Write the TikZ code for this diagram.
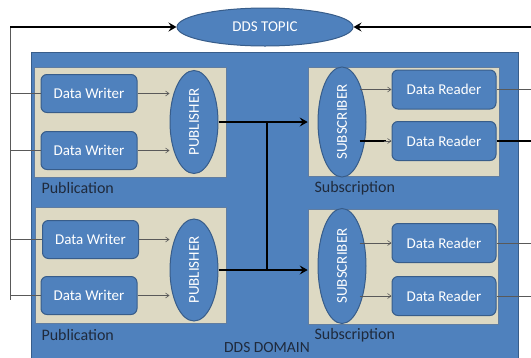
\documentclass[tikz,border=0pt]{standalone}
\usepackage{fontspec}
\setmainfont{Carlito}
\usetikzlibrary{shapes,arrows.meta,positioning,calc}

\definecolor{ddsblue}{HTML}{4F81BD}
\definecolor{ddsedge}{HTML}{385D8A}
\definecolor{ddsbeige}{HTML}{DDD9C3}
\definecolor{labelink}{HTML}{1F2A3C}

\begin{document}
\begin{tikzpicture}[x=1pt, y=-1pt,
    blueshape/.style={draw=ddsedge, line width=1pt, fill=ddsblue, text=white, inner sep=0pt, font=\fontsize{15}{17}\selectfont},
    writerbox/.style={blueshape, rounded corners=6pt, minimum width=96pt, minimum height=38pt},
    readerbox/.style={blueshape, rounded corners=6pt, minimum width=104pt, minimum height=39pt},
    roleshape/.style={blueshape, ellipse, minimum width=48pt},
    groupbox/.style={draw=ddsedge!80, line width=0.6pt, fill=ddsbeige, inner sep=0pt},
    grouplabel/.style={anchor=west, text=labelink, font=\fontsize{16}{18}\selectfont},
    thinarrow/.style={draw=black!65, line width=0.6pt, -{Straight Barb[length=3.5pt,width=5pt]}},
    thinline/.style={draw=black!65, line width=0.6pt},
    thickline/.style={draw=black, line width=1.8pt},
    thickarrow/.style={thickline, -{Stealth[length=8pt,width=9pt,inset=3pt]}}]
    \useasboundingbox (0,0) rectangle (531,357);
    \clip (0,0) rectangle (531,357);

    % DDS domain and topic
    \node[draw=ddsedge, line width=1pt, fill=ddsblue, minimum width=487pt, minimum height=310pt, inner sep=0pt] (domain) at (274.5,207) {};
    \node[blueshape, ellipse, minimum width=176pt, minimum height=38pt] (topic) at (265,27) {DDS TOPIC};
    \node[text=labelink, font=\fontsize{15.5}{17}\selectfont] (domainlabel) at (267,347.5) {DDS DOMAIN};

    % Group boxes
    \node[groupbox, minimum width=192pt, minimum height=110pt] (pubgrp1) at (130,122) {};
    \node[groupbox, minimum width=191pt, minimum height=109pt] (subgrp1) at (403.5,121.5) {};
    \node[groupbox, minimum width=191pt, minimum height=116pt] (pubgrp2) at (130.5,265) {};
    \node[groupbox, minimum width=190pt, minimum height=115pt] (subgrp2) at (403,266.5) {};
    \node[grouplabel] (publab1) at (38,188) {Publication};
    \node[grouplabel] (sublab1) at (311,188) {Subscription};
    \node[grouplabel] (publab2) at (38,335) {Publication};
    \node[grouplabel] (sublab2) at (311,335) {Subscription};

    % Writers and publishers
    \node[writerbox] (w1) at (89,93.5) {Data Writer};
    \node[writerbox] (w2) at (89,150.5) {Data Writer};
    \node[writerbox] (w3) at (90.5,239.5) {Data Writer};
    \node[writerbox] (w4) at (89,295.5) {Data Writer};
    \node[roleshape, minimum height=103pt] (pub1) at (194,122) {\rotatebox{90}{PUBLISHER}};
    \node[roleshape, minimum height=102pt] (pub2) at (194,270) {\rotatebox{90}{PUBLISHER}};

    % Subscribers and readers
    \node[roleshape, minimum height=110pt] (sub1) at (342,122) {\rotatebox{90}{SUBSCRIBER}};
    \node[roleshape, minimum height=115pt] (sub2) at (342,266) {\rotatebox{90}{SUBSCRIBER}};
    \node[readerbox] (r1) at (444,89.5) {Data Reader};
    \node[readerbox] (r2) at (444,141) {Data Reader};
    \node[readerbox] (r3) at (444,243) {Data Reader};
    \node[readerbox] (r4) at (444,296) {Data Reader};

    % Outer links
    \coordinate (tl) at (10,27);
    \coordinate (bl) at (10,300);
    \coordinate (tr) at (531,27);
    \draw[thinline] (tl) -- (bl);
    \draw[thickarrow] (tl) -- (topic.west);
    \draw[thickarrow] (tr) -- (topic.east);
    \foreach \w in {w1,w2,w3,w4}
        \draw[thinline] (\w.west -| tl) -- (\w.west);
    \draw[thinline] (r1.east) -- (r1.east -| tr);
    \draw[thickline] (r2.east) -- (r2.east -| tr);
    \draw[thinline] (r3.east) -- (r3.east -| tr);
    \draw[thinline] (r4.east) -- (r4.east -| tr);

    % Writer to publisher
    \draw[thinarrow] (w1.east) -- (pub1.west |- w1.east);
    \draw[thinarrow] (w2.east) -- (pub1.west |- w2.east);
    \draw[thinarrow] (w3.east) -- (pub2.west |- w3.east);
    \draw[thinarrow] (w4.east) -- (pub2.west |- w4.east);

    % Subscriber to reader
    \draw[thinarrow] ($(r1.west -| sub1.east)+(-7,0)$) -- (r1.west);
    \draw[thickline] ($(r2.west -| sub1.east)+(-7,0)$) -- ($(r2.west)+(-6,0)$);
    \draw[thinarrow] ($(r2.west)+(-8,0)$) -- (r2.west);
    \draw[thinarrow] ($(r3.west -| sub2.east)+(-7,0)$) -- (r3.west);
    \draw[thinarrow] ($(r4.west -| sub2.east)+(-7,0)$) -- (r4.west);

    % Publisher to subscriber bus
    \coordinate (busT) at (267,122);
    \coordinate (busB) at (267,270);
    \draw[thickline] (pub1.east) -- (busT);
    \draw[thickline] (pub2.east) -- (busB);
    \draw[thickline] (busT) -- (busB);
    \draw[thickarrow] (busT) -- (subgrp1.west |- busT);
    \draw[thickarrow] (busB) -- (subgrp2.west |- busB);
\end{tikzpicture}
\end{document}
